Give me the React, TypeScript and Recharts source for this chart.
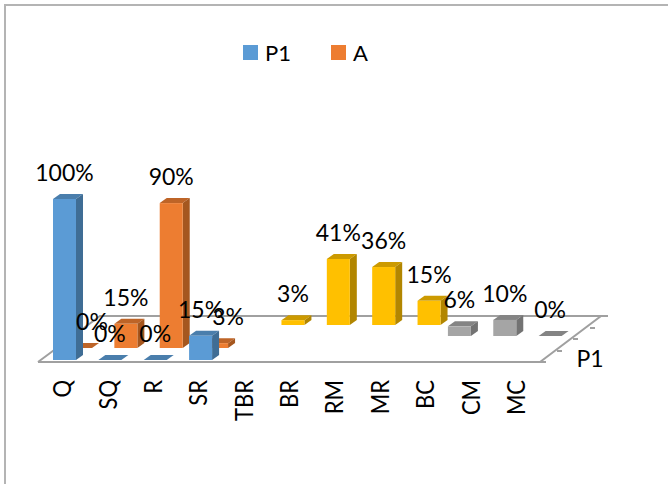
import React from "react";
import { BarChart, Bar, XAxis, YAxis, Legend, LabelList } from "recharts";

const categories = ["Q", "SQ", "R", "SR", "TBR", "BR", "RM", "MR", "BC", "CM", "MC"];
const p1Values = [100, 0, 0, 15, null, null, null, null, null, null, null];
const aValues = [0, 15, 90, 3, null, null, null, null, null, null, null];
const grayValues = [null, null, null, null, null, null, null, null, 6, 10, 0];
const yellowValues = [null, null, null, null, 3, 41, 36, 15, null, null, null];
const legendNames = ["P1", "A"];
const depthLabel = "P1";

const chartData = categories.map((c, i) => ({
  c,
  p1: p1Values[i],
  a: aValues[i],
  gray: grayValues[i],
  yellow: yellowValues[i],
}));

const FONT = "Lato, Carlito, Calibri, sans-serif";
const DEPTH_X = 7;
const DEPTH_Y = 5;

type Tone = { front: string; side: string; top: string };
const BLUE: Tone = { front: "#5B9BD5", side: "#3F6D95", top: "#4A7EAC" };
const ORANGE: Tone = { front: "#ED7D31", side: "#A5571F", top: "#BE6427" };
const GRAY: Tone = { front: "#A5A5A5", side: "#737373", top: "#848484" };
const YELLOW: Tone = { front: "#FFC000", side: "#B28600", top: "#CC9A00" };

const makeShape = (tone: Tone, dx: number, dy: number) => (props: any) => {
  const { x, y, width, height } = props;
  if (!Number.isFinite(y) || !Number.isFinite(height) || props.value == null) return <g />;
  const l = x + dx;
  const r = l + width;
  const t = y - dy;
  const b = t + height;
  return (
    <g>
      <polygon
        points={`${l},${t} ${r},${t} ${r + DEPTH_X},${t - DEPTH_Y} ${l + DEPTH_X},${t - DEPTH_Y}`}
        fill={tone.top}
      />
      {height > 0 && (
        <>
          <polygon
            points={`${r},${t} ${r + DEPTH_X},${t - DEPTH_Y} ${r + DEPTH_X},${b - DEPTH_Y} ${r},${b}`}
            fill={tone.side}
          />
          <rect x={l} y={t} width={width} height={height} fill={tone.front} />
        </>
      )}
    </g>
  );
};

const makeLabel = (dx: number, dy: number, hiddenBy?: (number | null)[]) => (props: any) => {
  const { x, y, width, value, index } = props;
  if (value == null || !Number.isFinite(y)) return <g />;
  const nudge = hiddenBy && (hiddenBy[index] ?? 0) > 0 ? 11.5 : 0;
  return (
    <text
      x={x + width / 2 + dx + nudge}
      y={y - dy - 27}
      textAnchor="middle"
      dominantBaseline="central"
      fontFamily={FONT}
      fontSize={23}
      fill="#000"
    >
      {value}%
    </text>
  );
};

const Tick = (props: any) => {
  const { x, y, payload } = props;
  const tx = x - 3;
  const ty = y + 14;
  return (
    <text
      x={0}
      y={0}
      transform={`translate(${tx} ${ty}) rotate(-90) scale(0.88 1)`}
      textAnchor="end"
      dominantBaseline="central"
      fontFamily={FONT}
      fontSize={25}
      fill="#000"
    >
      {payload.value}
    </text>
  );
};

const legendSwatches = [BLUE.front, ORANGE.front];

const LegendBox = () => (
  <div style={{ position: "relative", height: 30, fontFamily: FONT, fontSize: 22, color: "#000" }}>
    {legendNames.map((n, i) => (
      <React.Fragment key={n}>
        <span
          style={{
            position: "absolute",
            left: i * 88,
            top: 6,
            width: 15,
            height: 15,
            background: legendSwatches[i],
          }}
        />
        <span style={{ position: "absolute", left: i * 88 + 22, top: 0, lineHeight: "28px" }}>{n}</span>
      </React.Fragment>
    ))}
  </div>
);

const floorStroke = "#A0A0A0";

export default function App() {
  return (
    <div style={{ position: "absolute", left: 0, top: 0, width: 668, height: 484, background: "#fff", overflow: "hidden" }}>
      <div
        style={{
          position: "absolute",
          left: 4,
          top: 4,
          width: 668,
          height: 484,
          borderLeft: "2px solid #B4B4B4",
          borderTop: "2px solid #B4B4B4",
        }}
      />
      <svg width={668} height={484} style={{ position: "absolute", left: 0, top: 0 }}>
        <g stroke={floorStroke} strokeWidth={2} fill="none">
          <polyline points="38,362 540,362 601,316 100,316 38,362" />
          <line x1={601} y1={316} x2={608} y2={316} />
          <line x1={590} y1={328} x2={595} y2={328} />
          <line x1={573} y1={339} x2={578} y2={339} />
          <line x1={557} y1={351} x2={562} y2={351} />
          <line x1={540} y1={362} x2={546} y2={362} />
        </g>
        <text x={590} y={358} textAnchor="middle" dominantBaseline="central" fontFamily={FONT} fontSize={23} fill="#000">
          {depthLabel}
        </text>
      </svg>
      <div style={{ position: "absolute", left: 0, top: 0 }}>
        <BarChart
          width={668}
          height={484}
          data={chartData}
          barSize={23}
          barGap={-23}
          margin={{ left: 42, right: 127, top: 199, bottom: 34 }}
        >
          <XAxis
            dataKey="c"
            height={60}
            interval={0}
            axisLine={false}
            tickLine={false}
            tickMargin={0}
            tick={<Tick />}
          />
          <YAxis hide domain={[0, 100]} />
          <Legend content={<LegendBox />} wrapperStyle={{ left: 243, top: 39, width: 160, height: 30 }} />
          <Bar dataKey="yellow" isAnimationActive={false} legendType="none" shape={makeShape(YELLOW, 47, 35)}>
            <LabelList dataKey="yellow" content={makeLabel(47, 35)} />
          </Bar>
          <Bar dataKey="gray" isAnimationActive={false} legendType="none" shape={makeShape(GRAY, 32, 24)}>
            <LabelList dataKey="gray" content={makeLabel(32, 24)} />
          </Bar>
          <Bar dataKey="a" name="A" isAnimationActive={false} shape={makeShape(ORANGE, 16, 12)}>
            <LabelList dataKey="a" content={makeLabel(16, 12, p1Values)} />
          </Bar>
          <Bar dataKey="p1" name="P1" isAnimationActive={false} shape={makeShape(BLUE, 0, 0)}>
            <LabelList dataKey="p1" content={makeLabel(0, 0)} />
          </Bar>
        </BarChart>
      </div>
    </div>
  );
}
